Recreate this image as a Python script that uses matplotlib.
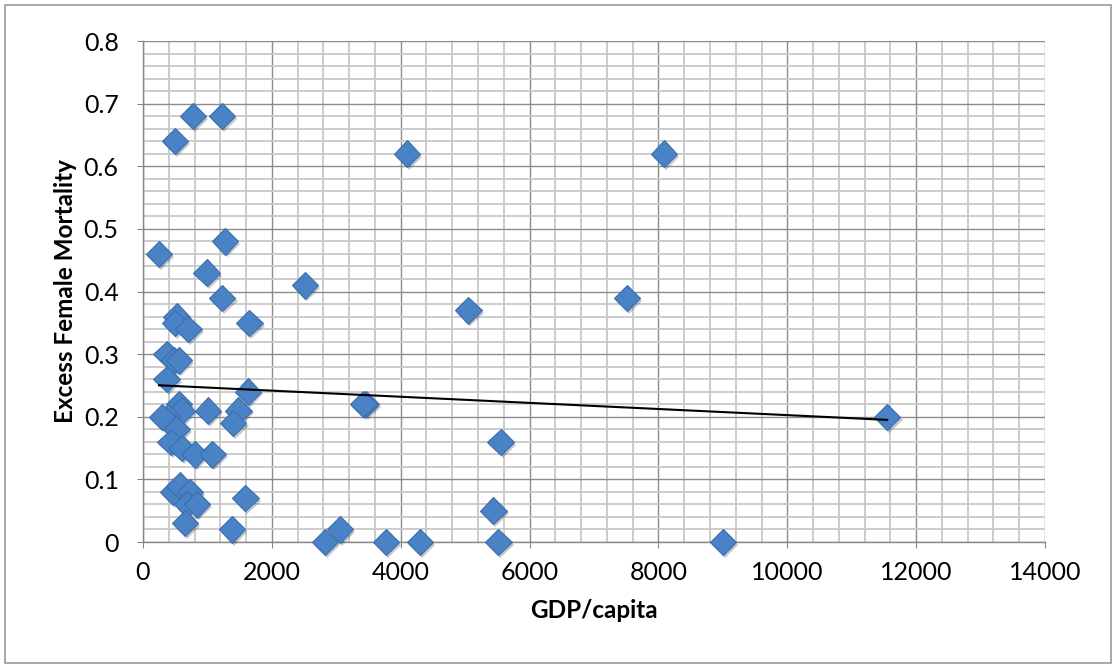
import numpy as np
import matplotlib
matplotlib.use("Agg")
import matplotlib.pyplot as plt
import matplotlib.patheffects as pe
from matplotlib.ticker import MultipleLocator
from matplotlib.patches import Rectangle

# GDP per capita vs excess female mortality
gdp = [776, 1226, 497, 4097, 8086, 248, 1273, 990, 2514, 1230,
       5050, 7512, 523, 497, 703, 1650, 367, 480, 560, 367,
       1630, 560, 600, 390, 300, 1010, 1480, 1400, 520, 3460,
       3420, 11550, 430, 600, 800, 1076, 5551, 470, 570, 730,
       680, 840, 652, 1380, 1590, 5437, 2825, 3057, 3771, 4299,
       5515, 9000]
mortality = [0.68, 0.68, 0.64, 0.62, 0.62, 0.46, 0.48, 0.43, 0.41, 0.39,
             0.37, 0.39, 0.36, 0.35, 0.34, 0.35, 0.30, 0.29, 0.29, 0.26,
             0.24, 0.22, 0.21, 0.20, 0.20, 0.21, 0.21, 0.19, 0.18, 0.22,
             0.22, 0.20, 0.16, 0.15, 0.14, 0.14, 0.16, 0.08, 0.09, 0.08,
             0.06, 0.06, 0.03, 0.02, 0.07, 0.05, 0.00, 0.02, 0.00, 0.00,
             0.00, 0.00]

plt.rcParams['font.family'] = ['Lato', 'DejaVu Sans']

fig = plt.figure(figsize=(11.16, 6.68), dpi=100)
ax = fig.add_axes([0.1281, 0.1886, 0.9364 - 0.1281, 0.9386 - 0.1886])

# grid: minor light, major darker
ax.set_xlim(0, 14000)
ax.set_ylim(0, 0.8)
ax.xaxis.set_major_locator(MultipleLocator(2000))
ax.xaxis.set_minor_locator(MultipleLocator(400))
ax.yaxis.set_major_locator(MultipleLocator(0.1))
ax.yaxis.set_minor_locator(MultipleLocator(0.02))
ax.grid(which='minor', color='#c8c8c8', linewidth=1.3, zorder=0)
ax.grid(which='major', color='#8c8c8c', linewidth=1.0, zorder=0)
ax.set_axisbelow(True)

for s in ['top', 'right']:
    ax.spines[s].set_visible(False)
for s in ['left', 'bottom']:
    ax.spines[s].set_color('#868686')
    ax.spines[s].set_linewidth(1.0)

ax.tick_params(which='major', length=4.5, color='#868686', labelsize=18,
               labelcolor='black')
ax.tick_params(axis='x', pad=9)
ax.tick_params(axis='y', pad=13)
ax.tick_params(which='minor', length=0)
ax.set_yticks(np.arange(0, 0.81, 0.1))
ax.set_yticklabels(['0'] + [f'{v:.1f}' for v in np.arange(0.1, 0.81, 0.1)])

# data points
ax.plot(gdp, mortality, linestyle='none', marker='D', markersize=13.5,
        markerfacecolor='#4a82c6', markeredgecolor='#3b6eab',
        markeredgewidth=0.8, zorder=3, clip_on=False,
        path_effects=[pe.SimplePatchShadow(offset=(1.5, -2), alpha=0.25),
                      pe.Normal()])

# linear trendline
coef = np.polyfit(gdp, mortality, 1)
xt = np.array([min(gdp), max(gdp)])
ax.plot(xt, np.polyval(coef, xt), color='black', linewidth=1.5, zorder=4)

ax.set_xlabel('GDP/capita', fontsize=17.5, fontweight='bold', labelpad=11)
ax.set_ylabel('Excess Female Mortality', fontsize=17.5, fontweight='bold',
              labelpad=5)

# outer chart border
fig.patches.append(Rectangle((5 / 1116, 5 / 668), 1 - 10 / 1116, 1 - 10 / 668,
                             transform=fig.transFigure, fill=False,
                             edgecolor='#9a9a9a', linewidth=1.2))

fig.savefig('out.png', dpi=100)
